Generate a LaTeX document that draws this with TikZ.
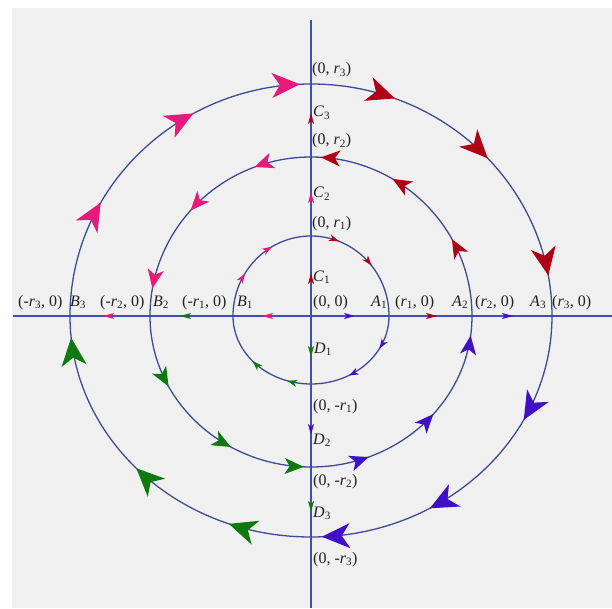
\documentclass[tikz,border=0pt]{standalone}
\usepackage{fontspec}
\setmainfont{Liberation Serif}
\usetikzlibrary{arrows.meta,decorations.markings}
\definecolor{orbitc}{HTML}{3E4B93}
\definecolor{axisc}{HTML}{3C4FB4}
\definecolor{bgc}{HTML}{F0F0F0}
\definecolor{labc}{HTML}{202020}
\definecolor{pinkc}{HTML}{E8197A}
\definecolor{redc}{HTML}{B00018}
\definecolor{greenc}{HTML}{0E7A0E}
\definecolor{indc}{HTML}{4010C8}

\tikzset{
  bigarr/.tip={Stealth[length=28pt,width=25pt,inset=8pt]},
  midarr/.tip={Stealth[length=19pt,width=16pt,inset=5pt]},
  smallarr/.tip={Stealth[length=10pt,width=7pt,inset=3pt]},
  axarr/.tip={Stealth[length=11pt,width=6pt,inset=3pt]},
  orbit/.style={orbitc,line width=1.3pt},
  axisline/.style={axisc,line width=1.2pt},
  flow/.style n args={5}{postaction={decorate,decoration={markings,
      mark=at position #3 with {\arrow[#1]{#2}},
      mark=at position #4 with {\arrow[#1]{#2}},
      mark=at position #5 with {\arrow[#1]{#2}}}}},
  flowtwo/.style n args={4}{postaction={decorate,decoration={markings,
      mark=at position #3 with {\arrow[#1]{#2}},
      mark=at position #4 with {\arrow[#1]{#2}}}}},
  tipat/.style n args={3}{postaction={decorate,decoration={markings,
      mark=at position #1 with {\arrow[#2]{#3}}}}},
  lab/.style={anchor=base west,inner sep=0pt,text=labc,font=\fontsize{16}{18}\selectfont}
}

\begin{document}
\begin{tikzpicture}[x=1pt,y=1pt]
  \useasboundingbox (-311,-292) rectangle (301,316);
  \fill[white] (-311,-292) rectangle (301,316);
  \fill[bgc] (-299,-292) rectangle (301,308);

  % Axes, drawn outward from the origin
  \coordinate (O) at (0,0);
  \draw[axisline,tipat={44pt}{indc}{axarr},tipat={126pt}{redc}{axarr},tipat={202pt}{indc}{axarr}] (O) -- (301,0);
  \draw[axisline,tipat={49pt}{pinkc}{axarr},tipat={131pt}{greenc}{axarr},tipat={208pt}{pinkc}{axarr}] (O) -- (-298,0);
  \draw[axisline,tipat={43pt}{redc}{axarr},tipat={124pt}{pinkc}{axarr},tipat={203pt}{redc}{axarr}] (O) -- (0,296);
  \draw[axisline,tipat={41pt}{greenc}{axarr},tipat={119pt}{indc}{axarr},tipat={196pt}{greenc}{axarr}] (O) -- (0,-292);

  % Outer orbit, clockwise
  \foreach \sa/\ea/\ry/\col/\p/\q/\r in {180/90/232/pinkc/.32/.67/.97, 90/0/232/redc/.23/.53/.89,
                                         0/-90/221/indc/.30/.66/.97, -90/-180/221/greenc/.23/.53/.94} {
    \draw[orbit,flow={\col}{bigarr}{\p}{\q}{\r}] (\sa:241 and \ry) arc[start angle=\sa,end angle=\ea,x radius=241,y radius=\ry];
  }
  % Middle orbit, counterclockwise
  \foreach \sa/\ea/\ry/\col/\p/\q/\r in {0/90/159/redc/.32/.66/.96, 90/180/159/pinkc/.23/.54/.89,
                                         180/270/151/greenc/.30/.66/.97, 270/360/151/indc/.24/.56/.92} {
    \draw[orbit,flow={\col}{midarr}{\p}{\q}{\r}] (\sa:161 and \ry) arc[start angle=\sa,end angle=\ea,x radius=161,y radius=\ry];
  }
  % Inner orbit, clockwise
  \foreach \sa/\ea/\ry/\col/\p/\q in {180/90/80/pinkc/.36/.67, 90/0/80/redc/.23/.56,
                                      0/-90/68/indc/.30/.66, -90/-180/68/greenc/.21/.56} {
    \draw[orbit,flowtwo={\col}{smallarr}{\p}{\q}] (\sa:78 and \ry) arc[start angle=\sa,end angle=\ea,x radius=78,y radius=\ry];
  }

  % Labels on the vertical axis
  \node[lab] (n0r3) at (1,242) {(0, \textit{r}\textsubscript{3})};
  \node[lab] (c3) at (2,199) {\textit{C}\textsubscript{3}};
  \node[lab] (n0r2) at (1,171) {(0, \textit{r}\textsubscript{2})};
  \node[lab] (c2) at (2,118) {\textit{C}\textsubscript{2}};
  \node[lab] (n0r1) at (1,89) {(0, \textit{r}\textsubscript{1})};
  \node[lab] (c1) at (2,35) {\textit{C}\textsubscript{1}};
  \node[lab] (n00) at (2,10) {(0, 0)};
  \node[lab] (d1) at (3,-37) {\textit{D}\textsubscript{1}};
  \node[lab] (n0mr1) at (2,-94) {(0, -\textit{r}\textsubscript{1})};
  \node[lab] (d2) at (2,-128) {\textit{D}\textsubscript{2}};
  \node[lab] (n0mr2) at (2,-169) {(0, -\textit{r}\textsubscript{2})};
  \node[lab] (d3) at (2,-201) {\textit{D}\textsubscript{3}};
  \node[lab] (n0mr3) at (2,-247) {(0, -\textit{r}\textsubscript{3})};

  % Labels on the horizontal axis
  \node[lab] (a1) at (60,10) {\textit{A}\textsubscript{1}};
  \node[lab] (nr1) at (84,10) {(\textit{r}\textsubscript{1}, 0)};
  \node[lab] (a2) at (141,10) {\textit{A}\textsubscript{2}};
  \node[lab] (nr2) at (164,10) {(\textit{r}\textsubscript{2}, 0)};
  \node[lab] (a3) at (219,10) {\textit{A}\textsubscript{3}};
  \node[lab] (nr3) at (241,10) {(\textit{r}\textsubscript{3}, 0)};
  \node[lab] (nmr3) at (-293,10) {(-\textit{r}\textsubscript{3}, 0)};
  \node[lab] (b3) at (-241,10) {\textit{B}\textsubscript{3}};
  \node[lab] (nmr2) at (-211,10) {(-\textit{r}\textsubscript{2}, 0)};
  \node[lab] (b2) at (-158,10) {\textit{B}\textsubscript{2}};
  \node[lab] (nmr1) at (-129,10) {(-\textit{r}\textsubscript{1}, 0)};
  \node[lab] (b1) at (-74,10) {\textit{B}\textsubscript{1}};
\end{tikzpicture}
\end{document}
